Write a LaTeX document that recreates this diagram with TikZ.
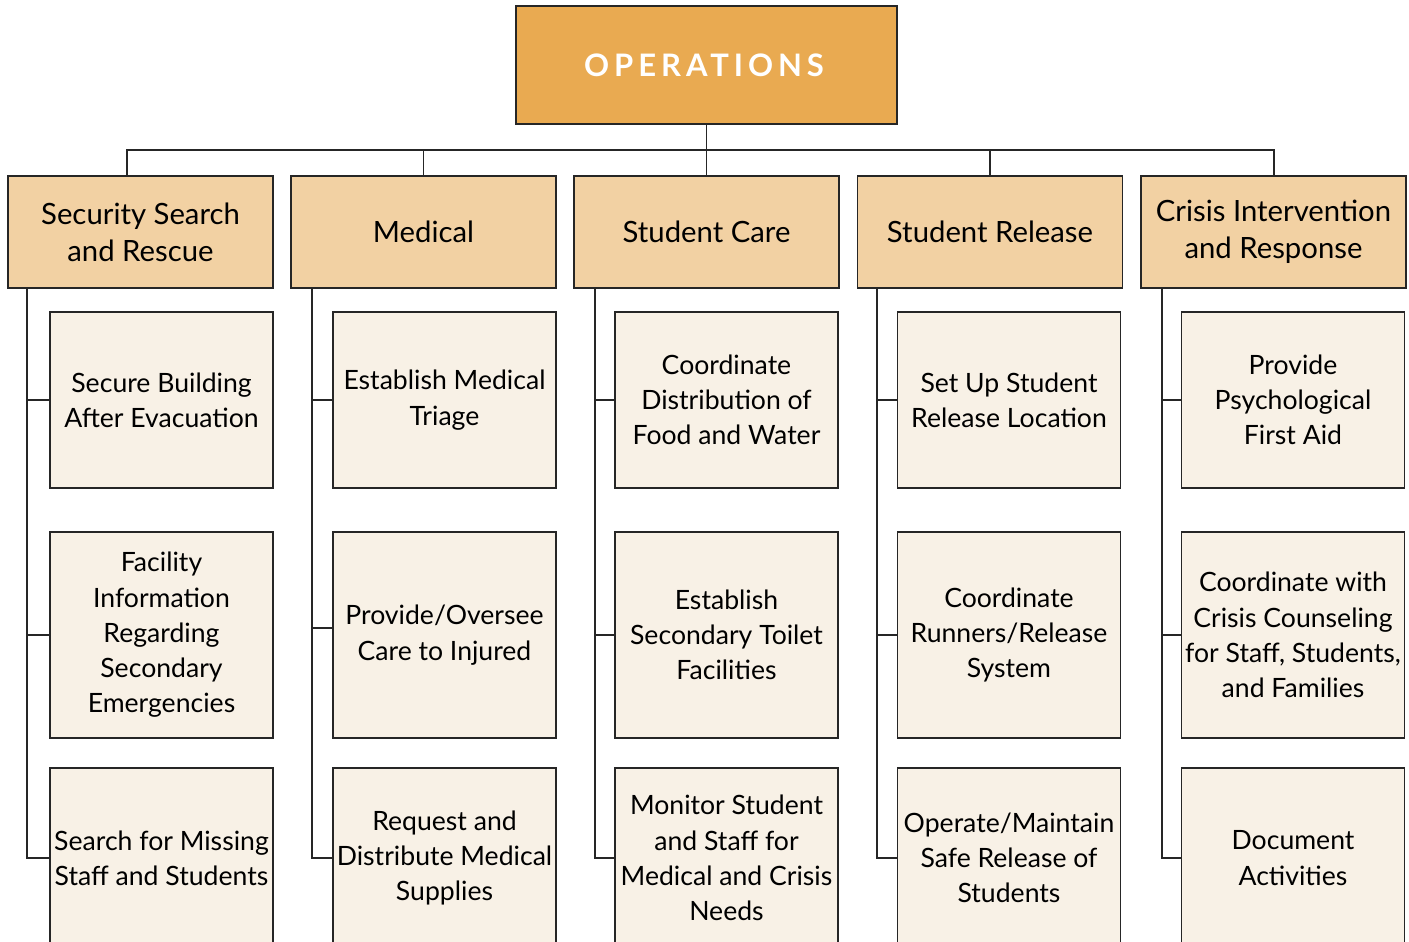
\documentclass[tikz,border=0pt]{standalone}
\usepackage{fontspec}
\setmainfont{Lato}
\usetikzlibrary{calc}
\definecolor{topfill}{HTML}{E9AA51}
\definecolor{midfill}{HTML}{F2D1A3}
\definecolor{lowfill}{HTML}{F8F1E6}
\definecolor{edge}{HTML}{262626}
\tikzset{
  box/.style={draw=edge, line width=1.3pt, inner sep=0pt, align=center, text=black},
  topbox/.style={box, fill=topfill, minimum width=381pt, minimum height=118pt},
  midbox/.style={box, fill=midfill, minimum width=265pt, minimum height=112pt,
    font=\fontsize{29.3}{38}\selectfont},
  lowbox/.style={box, fill=lowfill, minimum width=223pt,
    font=\fontsize{26.6}{35.3}\selectfont},
  rowa/.style={lowbox, minimum height=176pt},
  rowb/.style={lowbox, minimum height=206pt},
  rowc/.style={lowbox, minimum height=180pt},
  link/.style={draw=edge, line width=1.3pt}
}
\begin{document}
\begin{tikzpicture}[x=1pt,y=-1pt]
\useasboundingbox (0,0) rectangle (1409,942);
\clip (0,0) rectangle (1409,942);
\fill[white] (0,0) rectangle (1409,942);

% top
\node[topbox] (top) at (706.5,65) {\raisebox{-2pt}{\textcolor{white}{\fontsize{31}{36}\selectfont\addfontfeatures{LetterSpace=16}\textbf{OPERATIONS}}}};

% level 2
\node[midbox] (sec) at (140.5,232) {\raisebox{-1pt}{Security Search}\\and Rescue};
\node[midbox] (med) at (423.5,232) {Medical};
\node[midbox] (care) at (706.5,232) {Student Care};
\node[midbox] (rel) at (990,232) {Student Release};
\node[midbox] (cri) at (1273.5,232) {\raisebox{-1pt}{Crisis Intervention}\\and Response};

% level 3 column 1
\node[rowa] (s1) at (161.5,400) {Secure Building\\After Evacuation};
\node[rowb] (s2) at (161.5,635) {Facility\\Information\\Regarding\\Secondary\\Emergencies};
\node[rowc] (s3) at (161.5,858) {Search for Missing\\Staff and Students};
% column 2
\node[rowa] (m1) at (444.5,400) {Establish Medical\\Triage};
\node[rowb] (m2) at (444.5,635) {Provide/Oversee\\Care to Injured};
\node[rowc] (m3) at (444.5,858) {Request and\\Distribute Medical\\Supplies};
% column 3
\node[rowa] (c1) at (726.5,400) {Coordinate\\Distribution of\\Food and Water};
\node[rowb] (c2) at (726.5,635) {Establish\\Secondary Toilet\\Facilities};
\node[rowc] (c3) at (726.5,858) {Monitor Student\\and Staff for\\Medical and Crisis\\Needs};
% column 4
\node[rowa] (r1) at (1009,400) {Set Up Student\\Release Location};
\node[rowb] (r2) at (1009,635) {Coordinate\\Runners/Release\\System};
\node[rowc] (r3) at (1009,858) {Operate/Maintain\\Safe Release of\\Students};
% column 5
\node[rowa] (k1) at (1293,400) {Provide\\Psychological\\First Aid};
\node[rowb] (k2) at (1293,635) {Coordinate with\\Crisis Counseling\\for Staff, Students,\\and Families};
\node[rowc] (k3) at (1293,858) {Document\\Activities};

% bus
\coordinate (busL) at (127,150);
\coordinate (busR) at (1274,150);
\draw[link] (top.south) -- (care.north);
\draw[link] (sec.north -| busL) -- (busL) -- (busR) -- (busR |- cri.north);
\draw[link] (med.north) -- (med.north |- busL);
\draw[link] (rel.north) -- (rel.north |- busL);

% spines
\coordinate (sp1) at (27,288);
\coordinate (sp2) at (312,288);
\coordinate (sp3) at (595,288);
\coordinate (sp4) at (877,288);
\coordinate (sp5) at (1162,288);
\draw[link] (sp1) |- (s3.west); \draw[link] (sp1 |- s1.west) -- (s1.west); \draw[link] (sp1 |- s2.west) -- (s2.west);
\draw[link] (sp2) |- (m3.west); \draw[link] (sp2 |- m1.west) -- (m1.west); \draw[link] ($(sp2 |- m2.west)+(0,-7)$) -- ($(m2.west)+(0,-7)$);
\draw[link] (sp3) |- (c3.west); \draw[link] (sp3 |- c1.west) -- (c1.west); \draw[link] (sp3 |- c2.west) -- (c2.west);
\draw[link] (sp4) |- (r3.west); \draw[link] (sp4 |- r1.west) -- (r1.west); \draw[link] (sp4 |- r2.west) -- (r2.west);
\draw[link] (sp5) |- (k3.west); \draw[link] (sp5 |- k1.west) -- (k1.west); \draw[link] (sp5 |- k2.west) -- (k2.west);
\end{tikzpicture}
\end{document}
